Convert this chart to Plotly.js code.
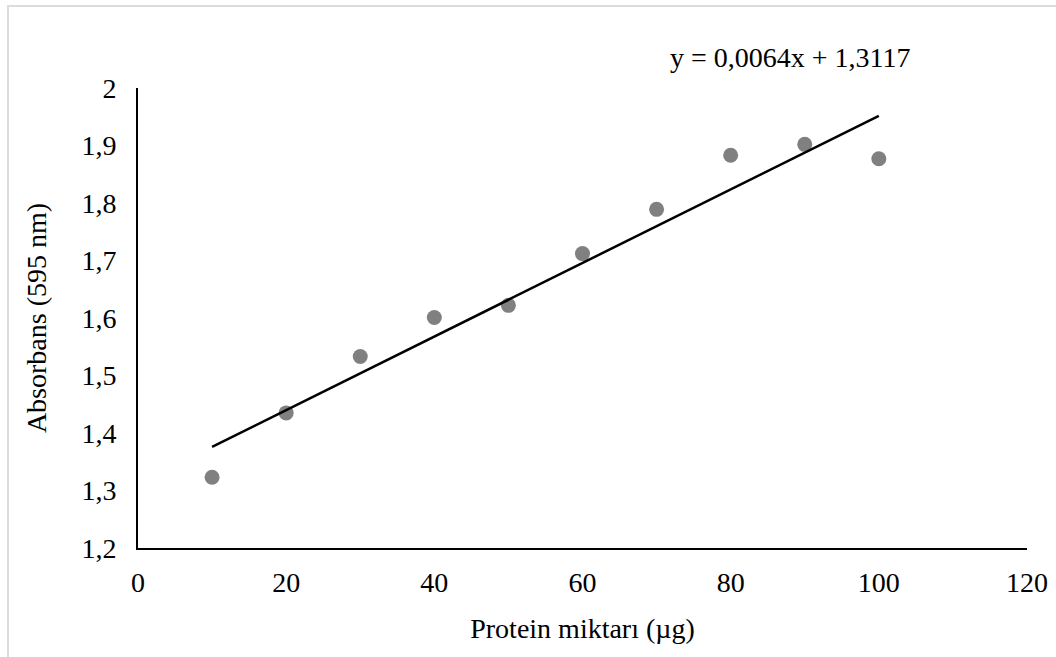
<!DOCTYPE html>
<html>
<head>
<meta charset="utf-8">
<script src="https://cdn.plot.ly/plotly-3.0.1.min.js"></script>
<style>
  html, body { margin: 0; padding: 0; background: #fff; }
  #wrap { position: relative; width: 1056px; height: 657px; overflow: hidden; }
  #chart { position: absolute; left: 0; top: 0; width: 1056px; height: 657px; }
  #frame { position: absolute; left: 7px; top: 5px; width: 1060px; height: 660px;
           border-top: 2px solid #dcdcdc; border-left: 2px solid #dcdcdc; pointer-events: none; }
</style>
</head>
<body>
<div id="wrap">
  <div id="chart"></div>
  <div id="frame"></div>
</div>
<script>
// Data
const proteinUg = [10, 20, 30, 40, 50, 60, 70, 80, 90, 100];
const absorbance = [1.323, 1.435, 1.533, 1.601, 1.622, 1.712, 1.789, 1.883, 1.902, 1.877];
const trendSlope = 0.0064;
const trendIntercept = 1.3117;
const trendXRange = [10, 100];
const equationText = 'y = 0,0064x + 1,3117';
const xTitle = 'Protein miktarı (µg)';
const yTitle = 'Absorbans (595 nm)';

const FONT = 'Liberation Serif, Times New Roman, serif';

const trendY = trendXRange.map(x => trendSlope * x + trendIntercept);

const traces = [
  {
    x: proteinUg, y: absorbance, type: 'scatter', mode: 'markers',
    marker: { color: '#808080', size: 15 },
    hoverinfo: 'x+y', showlegend: false
  },
  {
    x: trendXRange, y: trendY, type: 'scatter', mode: 'lines',
    line: { color: '#000000', width: 2.5 },
    hoverinfo: 'skip', showlegend: false
  }
];

const layout = {
  width: 1056, height: 657,
  margin: { l: 138, r: 29, t: 88, b: 109, pad: 0 },
  paper_bgcolor: 'rgba(0,0,0,0)', plot_bgcolor: 'rgba(0,0,0,0)',
  separators: ',.',
  font: { family: FONT, size: 28, color: '#000' },
  xaxis: {
    range: [0, 120], dtick: 20, tick0: 0,
    showgrid: false, zeroline: false,
    showline: true, linecolor: '#000', linewidth: 2,
    ticks: '', ticklabelstandoff: 8,
    tickfont: { family: FONT, size: 28, color: '#000' },
    title: { text: xTitle, font: { family: FONT, size: 28, color: '#000' }, standoff: 22 }
  },
  yaxis: {
    range: [1.2, 2], dtick: 0.1, tick0: 1.2,
    showgrid: false, zeroline: false,
    showline: true, linecolor: '#000', linewidth: 2,
    ticks: '', ticklabelstandoff: 14,
    tickfont: { family: FONT, size: 28, color: '#000' },
    title: { text: yTitle, font: { family: FONT, size: 28, color: '#000' }, standoff: 27 }
  },
  annotations: [{
    text: equationText, xref: 'paper', yref: 'paper',
    x: (790 - 138) / 889, y: 1 + (88 - 57) / 460,
    xanchor: 'center', yanchor: 'middle', showarrow: false,
    font: { family: FONT, size: 28, color: '#000' }
  }]
};

Plotly.newPlot('chart', traces, layout, { displayModeBar: false, staticPlot: true });
</script>
</body>
</html>
